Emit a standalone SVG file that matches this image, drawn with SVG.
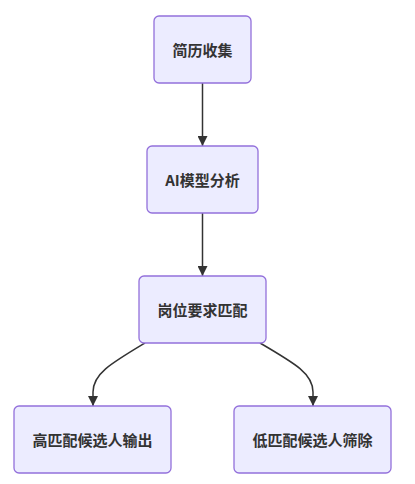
<svg xmlns="http://www.w3.org/2000/svg" width="415" height="484" viewBox="0 0 415 484">
<style>
.node rect{fill:#ECECFF;stroke:#9370DB;stroke-width:1.3}
.node text{font-family:"Noto Sans CJK SC","Liberation Sans",sans-serif;font-size:15px;fill:#333;text-anchor:middle;dominant-baseline:central;font-weight:bold}
.edge{fill:none;stroke:#333;stroke-width:1.5}
</style>
<defs>
<marker id="arrow" markerUnits="userSpaceOnUse" markerWidth="10" markerHeight="10" refX="10" refY="5" orient="auto">
<path d="M0,0 L10,5 L0,10 z" fill="#333"/>
</marker>
</defs>
<rect width="415" height="484" fill="#fff"/>
<g id="edges">
<path class="edge" d="M202.5,83 L202.5,146" marker-end="url(#arrow)"/>
<path class="edge" d="M202.5,213 L202.5,276" marker-end="url(#arrow)"/>
<path class="edge" d="M145,343 C110,364 93,374 93,392 L93,406" marker-end="url(#arrow)"/>
<path class="edge" d="M260,343 C296,364 313,374 313,392 L313,406" marker-end="url(#arrow)"/>
</g>
<g id="n1" class="node"><rect x="154" y="16" width="97" height="67" rx="5"/><text x="202.5" y="49.5">简历收集</text></g>
<g id="n2" class="node"><rect x="147" y="146" width="111" height="67" rx="5"/><text x="202.5" y="179.5">AI模型分析</text></g>
<g id="n3" class="node"><rect x="139" y="276" width="127" height="67" rx="5"/><text x="202.5" y="309.5">岗位要求匹配</text></g>
<g id="n4" class="node"><rect x="14" y="406" width="157" height="67" rx="5"/><text x="92.5" y="439.5">高匹配候选人输出</text></g>
<g id="n5" class="node"><rect x="234" y="406" width="157" height="67" rx="5"/><text x="312.5" y="439.5">低匹配候选人筛除</text></g>
</svg>
